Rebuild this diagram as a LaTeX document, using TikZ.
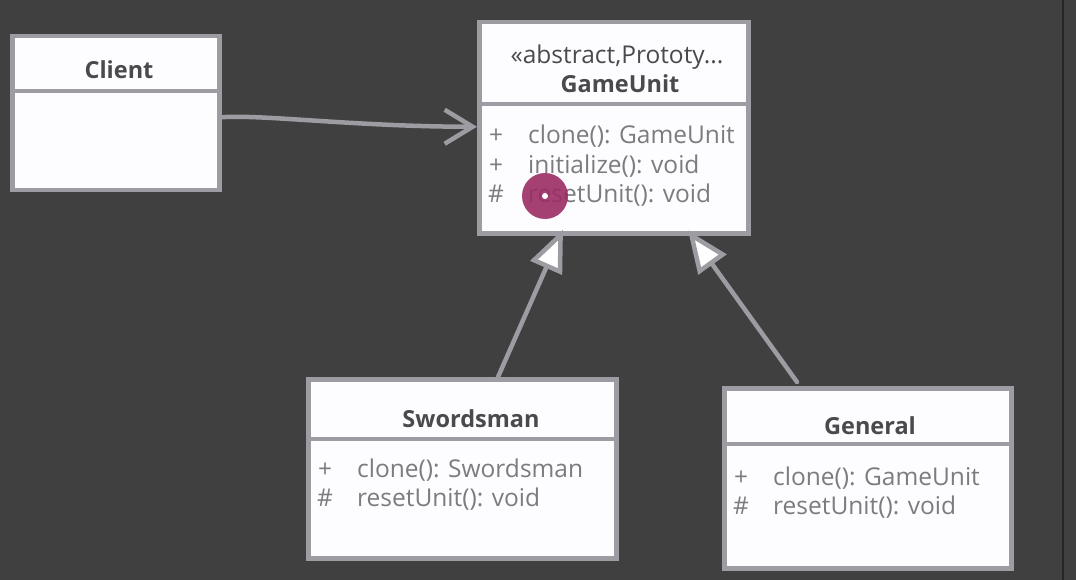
\documentclass[tikz,border=0pt]{standalone}
\usepackage{fontspec}
\setmainfont{Open Sans}
\usetikzlibrary{arrows.meta,calc}
\definecolor{bg}{HTML}{404040}
\definecolor{boxfill}{HTML}{FDFDFF}
\definecolor{edge}{HTML}{9C9CA2}
\definecolor{titlec}{HTML}{4A4A4E}
\definecolor{memc}{HTML}{7C7C80}
\definecolor{dotc}{HTML}{9C2C63}
\tikzset{
  umlbox/.style={draw=edge, line width=4.5pt, fill=boxfill, rectangle, inner sep=0pt, anchor=north west},
  divline/.style={draw=edge, line width=4.5pt},
  ttl/.style={font=\fontsize{23.5}{26}\selectfont\bfseries, text=titlec, anchor=base, inner sep=0pt},
  stereo/.style={font=\fontsize{24.5}{27}\selectfont, text=titlec, anchor=base, inner sep=0pt},
  mem/.style={font=\fontsize{24.5}{27}\selectfont, text=memc, anchor=base west, inner sep=0pt},
  conn/.style={draw=edge, line width=4.5pt, line cap=round},
  gen/.style={conn, -{Triangle[open, length=42pt, width=34pt, fill=white, line width=4.5pt]}},
  assoc/.style={conn, -{Straight Barb[length=28pt, width=34pt, line width=4.5pt]}},
}
\begin{document}
\begin{tikzpicture}[x=1pt,y=-1pt]
\fill[bg] (0,0) rectangle (1076,580);
\useasboundingbox (0,0) rectangle (1076,580);
\draw[line width=2pt, color=black!85] (1063,0) -- (1063,580);

% Client
\node[umlbox, minimum width=207pt, minimum height=154pt] (client) at (10,34) {};
\draw[divline] (client.west |- 0,91) coordinate (cdl) -- (client.east |- 0,91) coordinate (cdr);
\node[ttl] (clientT) at (119,79) {Client};

% GameUnit
\node[umlbox, minimum width=269pt, minimum height=211pt] (unit) at (477,20) {};
\draw[divline] (unit.west |- 0,104) coordinate (udl) -- (unit.east |- 0,104) coordinate (udr);
\node[stereo] (unitS) at (617,64) {«abstract,Prototy...};
\node[ttl] (unitT) at (620,93) {GameUnit};
\node[mem] (u1a) at (489,144) {+};
\node[mem] (u1b) at (528,144) {clone(): GameUnit};
\node[mem] (u2a) at (489,174) {+};
\node[mem] (u2b) at (528,174) {initialize(): void};
\node[mem] (u3a) at (488,203) {\#};
\node[mem] (u3b) at (528,203) {resetUnit(): void};

% Swordsman
\node[umlbox, minimum width=308pt, minimum height=179pt] (sword) at (306,377) {};
\draw[divline] (sword.west |- 0,439) coordinate (sdl) -- (sword.east |- 0,439) coordinate (sdr);
\node[ttl] (swordT) at (471,427) {Swordsman};
\node[mem] (s1a) at (318,477) {+};
\node[mem] (s1b) at (357,477) {clone(): Swordsman};
\node[mem] (s2a) at (317,506) {\#};
\node[mem] (s2b) at (357,506) {resetUnit(): void};

% General
\node[umlbox, minimum width=287pt, minimum height=180pt] (gen) at (722,386) {};
\draw[divline] (gen.west |- 0,444) coordinate (gdl) -- (gen.east |- 0,444) coordinate (gdr);
\node[ttl] (genT) at (870,434) {General};
\node[mem] (g1a) at (734,485) {+};
\node[mem] (g1b) at (773,485) {clone(): GameUnit};
\node[mem] (g2a) at (733,514) {\#};
\node[mem] (g2b) at (773,514) {resetUnit(): void};

% connectors
\coordinate (a1) at ($(client.east)+(0,4)$);
\coordinate (a2) at ($(unit.west)+(0,-1)$);
\draw[assoc] (a1) .. controls ($(a1)+(40,-3)$) and ($(a2)+(-120,0)$) .. (a2);

\coordinate (b1) at ($(sword.north west)+(192,0)$);
\coordinate (b2) at ($(unit.south west)+(86,-6)$);
\draw[gen] (b1) -- (b2);

\coordinate (c1) at ($(gen.north west)+(75,-4)$);
\coordinate (c2) at ($(unit.south west)+(211,-5)$);
\draw[gen] (c1) -- (c2);

% cursor dot
\fill[dotc, opacity=0.9] (545,196) circle (23pt);
\fill[white] (545,196) circle (3pt);
\end{tikzpicture}
\end{document}
